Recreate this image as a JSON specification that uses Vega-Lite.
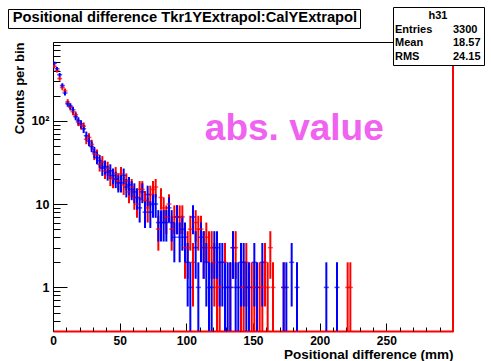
{
  "$schema": "https://vega.github.io/schema/vega-lite/v6.json",
  "width": 400,
  "height": 289,
  "autosize": {"type": "none"},
  "padding": {"left": 53, "top": 42, "right": 38, "bottom": 30},
  "background": "white",
  "config": {"view": {"stroke": "black", "strokeWidth": 1}, "font": "Liberation Sans"},
  "resolve": {"axis": {"x": "independent"}},
  "datasets": {
    "h": [
      {"x":1,"s":"R","c":450,"lo":428.79,"hi":471.21},
      {"x":3,"s":"R","c":400,"lo":380,"hi":420},
      {"x":5,"s":"R","c":320,"lo":302.11,"hi":337.89},
      {"x":7,"s":"R","c":250,"lo":234.19,"hi":265.81},
      {"x":9,"s":"R","c":228,"lo":212.9,"hi":243.1},
      {"x":11,"s":"R","c":168,"lo":155.04,"hi":180.96},
      {"x":13,"s":"R","c":145,"lo":132.96,"hi":157.04},
      {"x":15,"s":"R","c":128,"lo":116.69,"hi":139.31},
      {"x":17,"s":"R","c":118,"lo":107.14,"hi":128.86},
      {"x":19,"s":"R","c":96,"lo":86.2,"hi":105.8},
      {"x":21,"s":"R","c":88,"lo":78.62,"hi":97.38},
      {"x":23,"s":"R","c":86,"lo":76.73,"hi":95.27},
      {"x":25,"s":"R","c":60,"lo":52.25,"hi":67.75},
      {"x":27,"s":"R","c":63,"lo":55.06,"hi":70.94},
      {"x":29,"s":"R","c":52,"lo":44.79,"hi":59.21},
      {"x":31,"s":"R","c":40,"lo":33.68,"hi":46.32},
      {"x":33,"s":"R","c":39,"lo":32.76,"hi":45.24},
      {"x":35,"s":"R","c":30,"lo":24.52,"hi":35.48},
      {"x":37,"s":"R","c":32,"lo":26.34,"hi":37.66},
      {"x":39,"s":"R","c":25,"lo":20,"hi":30},
      {"x":41,"s":"R","c":27,"lo":21.8,"hi":32.2},
      {"x":43,"s":"R","c":21,"lo":16.42,"hi":25.58},
      {"x":45,"s":"R","c":20,"lo":15.53,"hi":24.47},
      {"x":47,"s":"R","c":23,"lo":18.2,"hi":27.8},
      {"x":49,"s":"R","c":19,"lo":14.64,"hi":23.36},
      {"x":51,"s":"R","c":23,"lo":18.2,"hi":27.8},
      {"x":53,"s":"R","c":17,"lo":12.88,"hi":21.12},
      {"x":55,"s":"R","c":19,"lo":14.64,"hi":23.36},
      {"x":57,"s":"R","c":14,"lo":10.26,"hi":17.74},
      {"x":59,"s":"R","c":16,"lo":12,"hi":20},
      {"x":61,"s":"R","c":12,"lo":8.54,"hi":15.46},
      {"x":63,"s":"R","c":10,"lo":6.84,"hi":13.16},
      {"x":65,"s":"R","c":15,"lo":11.13,"hi":18.87},
      {"x":67,"s":"R","c":15,"lo":11.13,"hi":18.87},
      {"x":69,"s":"R","c":11,"lo":7.68,"hi":14.32},
      {"x":71,"s":"R","c":9,"lo":6,"hi":12},
      {"x":73,"s":"R","c":13,"lo":9.39,"hi":16.61},
      {"x":75,"s":"R","c":15,"lo":11.13,"hi":18.87},
      {"x":77,"s":"R","c":16,"lo":12,"hi":20},
      {"x":79,"s":"R","c":5,"lo":2.76,"hi":7.24},
      {"x":81,"s":"R","c":12,"lo":8.54,"hi":15.46},
      {"x":83,"s":"R","c":9,"lo":6,"hi":12},
      {"x":85,"s":"R","c":7,"lo":4.35,"hi":9.65},
      {"x":87,"s":"R","c":10,"lo":6.84,"hi":13.16},
      {"x":89,"s":"R","c":5,"lo":2.76,"hi":7.24},
      {"x":91,"s":"R","c":7,"lo":4.35,"hi":9.65},
      {"x":93,"s":"R","c":7,"lo":4.35,"hi":9.65},
      {"x":95,"s":"R","c":7,"lo":4.35,"hi":9.65},
      {"x":97,"s":"R","c":7,"lo":4.35,"hi":9.65},
      {"x":99,"s":"R","c":3,"lo":1.27,"hi":4.73},
      {"x":101,"s":"R","c":3,"lo":1.27,"hi":4.73},
      {"x":103,"s":"R","c":5,"lo":2.76,"hi":7.24},
      {"x":105,"s":"R","c":2,"lo":0.59,"hi":3.41},
      {"x":107,"s":"R","c":6,"lo":3.55,"hi":8.45},
      {"x":109,"s":"R","c":5,"lo":2.76,"hi":7.24},
      {"x":111,"s":"R","c":5,"lo":2.76,"hi":7.24},
      {"x":113,"s":"R","c":3,"lo":1.27,"hi":4.73},
      {"x":115,"s":"R","c":4,"lo":2,"hi":6},
      {"x":117,"s":"R","c":3,"lo":1.27,"hi":4.73},
      {"x":119,"s":"R","c":3,"lo":1.27,"hi":4.73},
      {"x":121,"s":"R","c":2,"lo":0.59,"hi":3.41},
      {"x":123,"s":"R","c":1,"lo":0.01,"hi":2},
      {"x":125,"s":"R","c":1,"lo":0.01,"hi":2},
      {"x":129,"s":"R","c":2,"lo":0.59,"hi":3.41},
      {"x":133,"s":"R","c":1,"lo":0.01,"hi":2},
      {"x":135,"s":"R","c":3,"lo":1.27,"hi":4.73},
      {"x":137,"s":"R","c":3,"lo":1.27,"hi":4.73},
      {"x":141,"s":"R","c":1,"lo":0.01,"hi":2},
      {"x":143,"s":"R","c":1,"lo":0.01,"hi":2},
      {"x":145,"s":"R","c":2,"lo":0.59,"hi":3.41},
      {"x":149,"s":"R","c":1,"lo":0.01,"hi":2},
      {"x":151,"s":"R","c":1,"lo":0.01,"hi":2},
      {"x":155,"s":"R","c":1,"lo":0.01,"hi":2},
      {"x":157,"s":"R","c":1,"lo":0.01,"hi":2},
      {"x":159,"s":"R","c":2,"lo":0.59,"hi":3.41},
      {"x":161,"s":"R","c":1,"lo":0.01,"hi":2},
      {"x":163,"s":"R","c":3,"lo":1.27,"hi":4.73},
      {"x":165,"s":"R","c":1,"lo":0.01,"hi":2},
      {"x":173,"s":"R","c":1,"lo":0.01,"hi":2},
      {"x":221,"s":"R","c":1,"lo":0.01,"hi":2},
      {"x":223,"s":"R","c":1,"lo":0.01,"hi":2},
      {"x":1,"s":"B","c":490,"lo":467.86,"hi":512.14},
      {"x":3,"s":"B","c":420,"lo":399.51,"hi":440.49},
      {"x":5,"s":"B","c":355,"lo":336.16,"hi":373.84},
      {"x":7,"s":"B","c":265,"lo":248.72,"hi":281.28},
      {"x":9,"s":"B","c":215,"lo":200.34,"hi":229.66},
      {"x":11,"s":"B","c":160,"lo":147.35,"hi":172.65},
      {"x":13,"s":"B","c":150,"lo":137.75,"hi":162.25},
      {"x":15,"s":"B","c":135,"lo":123.38,"hi":146.62},
      {"x":17,"s":"B","c":112,"lo":101.42,"hi":122.58},
      {"x":19,"s":"B","c":100,"lo":90,"hi":110},
      {"x":21,"s":"B","c":92,"lo":82.41,"hi":101.59},
      {"x":23,"s":"B","c":80,"lo":71.06,"hi":88.94},
      {"x":25,"s":"B","c":66,"lo":57.88,"hi":74.12},
      {"x":27,"s":"B","c":57,"lo":49.45,"hi":64.55},
      {"x":29,"s":"B","c":49,"lo":42,"hi":56},
      {"x":31,"s":"B","c":42,"lo":35.52,"hi":48.48},
      {"x":33,"s":"B","c":36,"lo":30,"hi":42},
      {"x":35,"s":"B","c":33,"lo":27.26,"hi":38.74},
      {"x":37,"s":"B","c":27,"lo":21.8,"hi":32.2},
      {"x":39,"s":"B","c":28,"lo":22.71,"hi":33.29},
      {"x":41,"s":"B","c":24,"lo":19.1,"hi":28.9},
      {"x":43,"s":"B","c":25,"lo":20,"hi":30},
      {"x":45,"s":"B","c":22,"lo":17.31,"hi":26.69},
      {"x":47,"s":"B","c":20,"lo":15.53,"hi":24.47},
      {"x":49,"s":"B","c":18,"lo":13.76,"hi":22.24},
      {"x":51,"s":"B","c":18,"lo":13.76,"hi":22.24},
      {"x":53,"s":"B","c":22,"lo":17.31,"hi":26.69},
      {"x":55,"s":"B","c":16,"lo":12,"hi":20},
      {"x":57,"s":"B","c":17,"lo":12.88,"hi":21.12},
      {"x":59,"s":"B","c":15,"lo":11.13,"hi":18.87},
      {"x":61,"s":"B","c":14,"lo":10.26,"hi":17.74},
      {"x":63,"s":"B","c":12,"lo":8.54,"hi":15.46},
      {"x":65,"s":"B","c":9,"lo":6,"hi":12},
      {"x":67,"s":"B","c":14,"lo":10.26,"hi":17.74},
      {"x":69,"s":"B","c":8,"lo":5.17,"hi":10.83},
      {"x":71,"s":"B","c":13,"lo":9.39,"hi":16.61},
      {"x":73,"s":"B","c":8,"lo":5.17,"hi":10.83},
      {"x":75,"s":"B","c":10,"lo":6.84,"hi":13.16},
      {"x":77,"s":"B","c":10,"lo":6.84,"hi":13.16},
      {"x":79,"s":"B","c":6,"lo":3.55,"hi":8.45},
      {"x":81,"s":"B","c":6,"lo":3.55,"hi":8.45},
      {"x":83,"s":"B","c":6,"lo":3.55,"hi":8.45},
      {"x":85,"s":"B","c":6,"lo":3.55,"hi":8.45},
      {"x":87,"s":"B","c":9,"lo":6,"hi":12},
      {"x":89,"s":"B","c":6,"lo":3.55,"hi":8.45},
      {"x":91,"s":"B","c":4,"lo":2,"hi":6},
      {"x":93,"s":"B","c":7,"lo":4.35,"hi":9.65},
      {"x":95,"s":"B","c":4,"lo":2,"hi":6},
      {"x":97,"s":"B","c":5,"lo":2.76,"hi":7.24},
      {"x":99,"s":"B","c":4,"lo":2,"hi":6},
      {"x":101,"s":"B","c":2,"lo":0.59,"hi":3.41},
      {"x":103,"s":"B","c":1,"lo":0.01,"hi":2},
      {"x":105,"s":"B","c":7,"lo":4.35,"hi":9.65},
      {"x":107,"s":"B","c":3,"lo":1.27,"hi":4.73},
      {"x":109,"s":"B","c":1,"lo":0.01,"hi":2},
      {"x":111,"s":"B","c":4,"lo":2,"hi":6},
      {"x":113,"s":"B","c":3,"lo":1.27,"hi":4.73},
      {"x":115,"s":"B","c":2,"lo":0.59,"hi":3.41},
      {"x":117,"s":"B","c":1,"lo":0.01,"hi":2},
      {"x":119,"s":"B","c":1,"lo":0.01,"hi":2},
      {"x":121,"s":"B","c":3,"lo":1.27,"hi":4.73},
      {"x":123,"s":"B","c":3,"lo":1.27,"hi":4.73},
      {"x":125,"s":"B","c":2,"lo":0.59,"hi":3.41},
      {"x":127,"s":"B","c":2,"lo":0.59,"hi":3.41},
      {"x":129,"s":"B","c":1,"lo":0.01,"hi":2},
      {"x":131,"s":"B","c":1,"lo":0.01,"hi":2},
      {"x":133,"s":"B","c":1,"lo":0.01,"hi":2},
      {"x":135,"s":"B","c":3,"lo":1.27,"hi":4.73},
      {"x":137,"s":"B","c":1,"lo":0.01,"hi":2},
      {"x":139,"s":"B","c":1,"lo":0.01,"hi":2},
      {"x":141,"s":"B","c":2,"lo":0.59,"hi":3.41},
      {"x":143,"s":"B","c":2,"lo":0.59,"hi":3.41},
      {"x":145,"s":"B","c":1,"lo":0.01,"hi":2},
      {"x":147,"s":"B","c":1,"lo":0.01,"hi":2},
      {"x":151,"s":"B","c":2,"lo":0.59,"hi":3.41},
      {"x":153,"s":"B","c":1,"lo":0.01,"hi":2},
      {"x":157,"s":"B","c":2,"lo":0.59,"hi":3.41},
      {"x":173,"s":"B","c":1,"lo":0.01,"hi":2},
      {"x":175,"s":"B","c":1,"lo":0.01,"hi":2},
      {"x":179,"s":"B","c":2,"lo":0.59,"hi":3.41},
      {"x":183,"s":"B","c":1,"lo":0.01,"hi":2},
      {"x":205,"s":"B","c":1,"lo":0.01,"hi":2},
      {"x":213,"s":"B","c":1,"lo":0.01,"hi":2}
    ],
    "ann": [{"t": "abs. value", "x": 181, "y": 80}]
  },
  "layer": [
    {
      "data": {"name": "h"},
      "mark": {"type": "rule", "strokeWidth": 2, "clip": true},
      "encoding": {
        "x": {
          "field": "x", "type": "quantitative",
          "scale": {"domain": [0, 300], "nice": false, "zero": false},
          "axis": {
            "orient": "bottom",
            "title": "Positional difference (mm)",
            "values": [0, 50, 100, 150, 200, 250],
            "tickSize": -8,
            "tickColor": "black",
            "domainColor": "#ff0000",
            "domainWidth": 2,
            "grid": false,
            "labelFont": "Liberation Sans",
            "labelFontWeight": "bold",
            "labelFontSize": 12,
            "labelColor": "black",
            "labelPadding": 12,
            "labelFlush": false,
            "labelOverlap": false,
            "titleFont": "Liberation Sans",
            "titleFontWeight": "bold",
            "titleFontSize": 13.5,
            "titleColor": "black",
            "titleAnchor": "end",
            "titlePadding": 1
          }
        },
        "y": {
          "field": "lo", "type": "quantitative",
          "scale": {"type": "log", "domain": [0.3, 880], "clamp": true, "nice": false},
          "axis": {
            "title": "Counts per bin",
            "values": [0.4,0.5,0.6,0.7,0.8,0.9,1,2,3,4,5,6,7,8,9,10,20,30,40,50,60,70,80,90,100,200,300,400,500,600,700,800],
            "labelExpr": "datum.value == 1 ? '1' : datum.value == 10 ? '10' : datum.value == 100 ? '10²' : ''",
            "tickSize": {"condition": {"test": "datum.value == 1 || datum.value == 10 || datum.value == 100", "value": -14}, "value": -7},
            "tickColor": "black",
            "domainColor": "black",
            "grid": false,
            "labelFont": "Liberation Sans",
            "labelFontWeight": "bold",
            "labelFontSize": 12.5,
            "labelColor": "black",
            "labelPadding": 18,
            "labelFlush": false,
            "labelOverlap": false,
            "titleFont": "Liberation Sans",
            "titleFontWeight": "bold",
            "titleFontSize": 13,
            "titleColor": "black",
            "titleAnchor": "end",
            "titlePadding": 4
          }
        },
        "y2": {"field": "hi"},
        "color": {
          "field": "s", "type": "nominal",
          "scale": {"domain": ["R", "B"], "range": ["#ff0000", "#0000ff"]},
          "legend": {
            "values": ["Entries", "Mean", "RMS", "3300", "18.57", "24.15"],
            "columns": 2,
            "title": "h31",
            "orient": "none",
            "legendX": 340,
            "legendY": -35,
            "titleAnchor": "middle",
            "titleFont": "Liberation Sans",
            "titleFontSize": 11,
            "titleFontWeight": "bold",
            "titleColor": "black",
            "titlePadding": 3,
            "labelFont": "Liberation Sans",
            "labelFontSize": 11,
            "labelFontWeight": "bold",
            "labelColor": "black",
            "labelOffset": -12,
            "symbolSize": 1,
            "symbolOpacity": 0,
            "symbolStrokeWidth": 0,
            "columnPadding": 20,
            "rowPadding": 1.5,
            "padding": 3,
            "fillColor": "white",
            "strokeColor": "black",
            "cornerRadius": 0
          }
        },
        "opacity": {
          "field": "c", "type": "quantitative",
          "scale": {"range": [1, 1]},
          "legend": {
            "values": [1],
            "title": null,
            "labelExpr": "'Positional difference Tkr1YExtrapol:CalYExtrapol'",
            "orient": "none",
            "legendX": -45,
            "legendY": -33,
            "labelFont": "Liberation Sans",
            "labelFontSize": 14.7,
            "labelFontWeight": "bold",
            "labelColor": "black",
            "labelLimit": 600,
            "labelOffset": -12,
            "symbolSize": 1,
            "symbolOpacity": 0,
            "symbolStrokeWidth": 0,
            "padding": 2,
            "fillColor": "white",
            "strokeColor": "black",
            "cornerRadius": 0
          }
        }
      }
    },
    {
      "data": {"name": "h"},
      "mark": {"type": "tick", "orient": "horizontal", "size": 5, "thickness": 1.5, "clip": true},
      "encoding": {
        "x": {
          "field": "x", "type": "quantitative",
          "axis": {
            "orient": "bottom",
            "title": null,
            "values": [10,20,30,40,60,70,80,90,110,120,130,140,160,170,180,190,210,220,230,240,260,270,280,290],
            "tickSize": -4,
            "tickColor": "black",
            "labels": false,
            "domain": false,
            "grid": false
          }
        },
        "y": {"field": "c", "type": "quantitative"},
        "color": {"field": "s", "type": "nominal"}
      }
    },
    {
      "data": {"values": [{}]},
      "mark": {"type": "rule", "color": "#ff0000", "strokeWidth": 2},
      "encoding": {"x": {"datum": 300, "type": "quantitative", "axis": null}}
    },
    {
      "data": {"name": "ann"},
      "mark": {"type": "text", "font": "Liberation Sans", "fontWeight": "bold", "fontSize": 37, "color": "#f062f0", "align": "center", "baseline": "middle"},
      "encoding": {
        "x": {"field": "x", "type": "quantitative", "axis": null},
        "y": {"field": "y", "type": "quantitative"},
        "text": {"field": "t"}
      }
    }
  ]
}
